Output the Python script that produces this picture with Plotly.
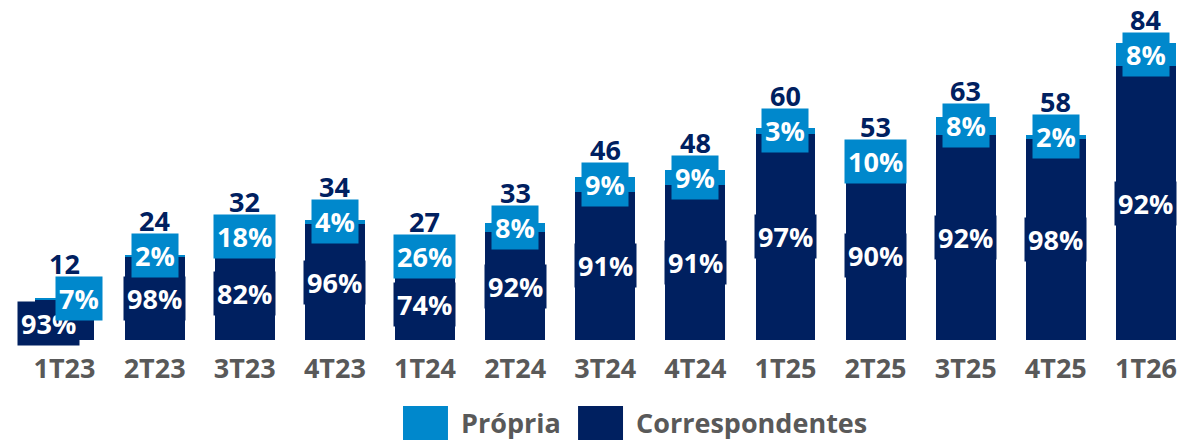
import plotly.graph_objects as go

categories = ["1T23", "2T23", "3T23", "4T23", "1T24", "2T24", "3T24", "4T24",
              "1T25", "2T25", "3T25", "4T25", "1T26"]
totals = [12, 24, 32, 34, 27, 33, 46, 48, 60, 53, 63, 58, 84]
propria_pct = [7, 2, 18, 4, 26, 8, 9, 9, 3, 10, 8, 2, 8]
corresp_pct = [93, 98, 82, 96, 74, 92, 91, 91, 97, 90, 92, 98, 92]
series_names = ["Própria", "Correspondentes"]

LIGHT = "#0088CC"
DARK = "#002060"
GRAY = "#595959"
FONT = "Open Sans"
FS = 27

propria_vals = [t * p / 100 for t, p in zip(totals, propria_pct)]
corresp_vals = [t * c / 100 for t, c in zip(totals, corresp_pct)]

fig = go.Figure()
fig.add_trace(go.Bar(x=categories, y=corresp_vals, name=series_names[1],
                     marker=dict(color=DARK, line=dict(width=0)), showlegend=False,
                     hoverinfo="skip"))
fig.add_trace(go.Bar(x=categories, y=propria_vals, name=series_names[0],
                     marker=dict(color=LIGHT, line=dict(width=0)), showlegend=False,
                     hoverinfo="skip"))

annotations = []
for i, cat in enumerate(categories):
    cv = corresp_vals[i]
    xs_c, ys_c = (-16, -3) if i == 0 else (0, 0)
    annotations.append(dict(
        x=cat, y=cv / 2, xref="x", yref="y", text=f"<b>{corresp_pct[i]}%</b>",
        showarrow=False, font=dict(family=FONT, size=FS, color="white"),
        bgcolor=DARK, borderpad=3, xshift=xs_c, yshift=ys_c,
        xanchor="center", yanchor="middle"))
for i, cat in enumerate(categories):
    cv = corresp_vals[i]
    pv = propria_vals[i]
    xs_p = 14 if i == 0 else 0
    annotations.append(dict(
        x=cat, y=cv + pv / 2, xref="x", yref="y", text=f"<b>{propria_pct[i]}%</b>",
        showarrow=False, font=dict(family=FONT, size=FS, color="white"),
        bgcolor=LIGHT, borderpad=3, xshift=xs_p,
        xanchor="center", yanchor="middle"))
    annotations.append(dict(
        x=cat, y=cv + pv / 2, xref="x", yref="y", text=f"<b>{totals[i]}</b>",
        showarrow=False, font=dict(family=FONT, size=FS, color=DARK),
        yshift=35, xanchor="center", yanchor="middle"))

# custom legend
legend_items = [(series_names[0], LIGHT, 0.3288), (series_names[1], DARK, 0.4779)]
shapes = []
for name, col, x0 in legend_items:
    shapes.append(dict(type="rect", xref="paper", yref="paper",
                       x0=x0, x1=x0 + 0.0383, y0=-0.294, y1=-0.194,
                       fillcolor=col, line=dict(width=0)))
    annotations.append(dict(x=x0 + 0.0477, y=-0.244, xref="paper", yref="paper",
                            text=f"<b>{name}</b>", showarrow=False,
                            xanchor="left", yanchor="middle",
                            font=dict(family=FONT, size=FS, color=GRAY)))

fig.update_layout(
    width=1191, height=448,
    margin=dict(l=17, r=0, t=0, b=108),
    barmode="stack", bargap=0.335,
    plot_bgcolor="white", paper_bgcolor="white",
    annotations=annotations, shapes=shapes,
    xaxis=dict(showgrid=False, showline=False, zeroline=False, ticks="",
               tickfont=dict(family=FONT, size=FS, color=GRAY, weight="bold"),
               ticklabelstandoff=10),
    yaxis=dict(range=[0, 96], visible=False, showgrid=False, zeroline=False),
)

fig.write_html("out.html", config={"displayModeBar": False},
               post_script="document.body.style.margin='0';document.body.style.overflow='hidden';")
